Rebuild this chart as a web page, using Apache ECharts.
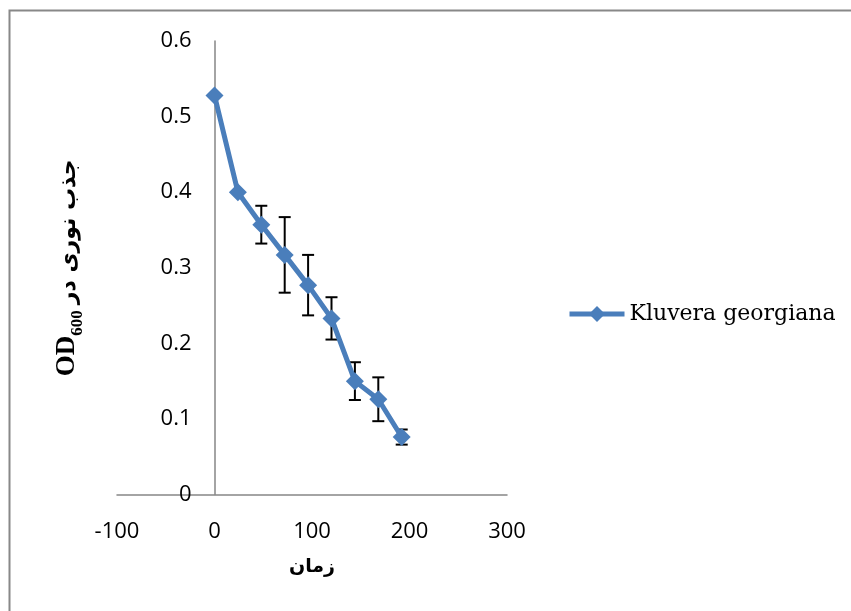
<!DOCTYPE html>
<html><head><meta charset="utf-8">
<script src="https://cdn.jsdelivr.net/npm/echarts@6/dist/echarts.min.js"></script>
<style>html,body{margin:0;padding:0;background:#fff}#c{width:851px;height:611px}</style>
</head><body><div id="c"></div>
<script>
// ---- data ----
const times = [0, 24, 48, 72, 96, 120, 144, 168, 192];
const od = [0.528, 0.400, 0.357, 0.317, 0.277, 0.233, 0.150, 0.126, 0.076];
const errs = [0, 0, 0.025, 0.050, 0.040, 0.028, 0.025, 0.029, 0.010];
const xTicks = [-100, 0, 100, 200, 300];
const yTicks = [0, 0.1, 0.2, 0.3, 0.4, 0.5, 0.6];
const seriesName = 'Kluvera georgiana';
const xTitle = 'زمان';
const yTitleLatin = 'OD';
const yTitleSub = '600';
const yTitleArabic = 'جذب نوری در';

const lineData = times.map((t, i) => [t, od[i]]);
const errData = times.map((t, i) => [t, od[i] - errs[i], od[i] + errs[i]]);

const chart = echarts.init(document.getElementById('c'), null, {renderer: 'canvas'});
const axisColor = '#868686';
const serifBold = "'Liberation Serif', 'DejaVu Sans'";

// grid geometry
const gridLeft = 117, gridRight = 344;
const gridWidth = 851 - gridLeft - gridRight;
const xMin = xTicks[0], xMax = xTicks[xTicks.length - 1];
// y axis sits on x = 0 (labels and name move with it)
const yAxisOffset = -(0 - xMin) / (xMax - xMin) * gridWidth;

chart.setOption({
  animation: false,
  backgroundColor: '#fff',
  graphic: [{
    type: 'rect', silent: true, z: -10,
    shape: {x: 9.5, y: 10.5, width: 900, height: 700},
    style: {fill: 'none', stroke: '#888', lineWidth: 2}
  }],
  grid: {left: gridLeft, right: gridRight, top: 41, bottom: 116.5, containLabel: false, outerBoundsMode: 'none'},
  legend: {
    left: 567, top: 303, orient: 'vertical', padding: 0,
    itemWidth: 55, itemHeight: 20, itemGap: 5,
    lineStyle: {width: 5},
    textStyle: {fontFamily: 'DejaVu Serif', fontSize: 22, color: '#000'},
    data: [seriesName]
  },
  xAxis: {
    type: 'value',
    min: xMin, max: xMax, interval: xTicks[1] - xTicks[0],
    axisLine: {lineStyle: {color: axisColor, width: 1.5}},
    axisTick: {show: false},
    splitLine: {show: false},
    axisLabel: {margin: 26, fontSize: 22, color: '#000', fontFamily: 'Open Sans'},
    name: xTitle, nameLocation: 'middle', nameGap: 63, nameMoveOverlap: false,
    nameTextStyle: {fontFamily: 'DejaVu Sans', fontWeight: 'bold', fontSize: 19, color: '#000'}
  },
  yAxis: {
    type: 'value',
    min: yTicks[0], max: yTicks[yTicks.length - 1], interval: 0.1,
    offset: yAxisOffset,
    axisLine: {show: true, onZero: false, lineStyle: {color: axisColor, width: 1.5}},
    axisTick: {show: false},
    splitLine: {show: false},
    axisLabel: {margin: 23, fontSize: 22, color: '#000', fontFamily: 'Open Sans'},
    name: '{b|' + yTitleLatin + '}{s|' + yTitleSub + '}{a|' + yTitleArabic + '}',
    nameLocation: 'middle', nameRotate: 90, nameGap: 134, nameMoveOverlap: false,
    nameTextStyle: {
      rich: {
        b: {fontFamily: serifBold, fontWeight: 'bold', fontSize: 27, color: '#000', verticalAlign: 'bottom', lineHeight: 30},
        s: {fontFamily: serifBold, fontWeight: 'bold', fontSize: 17, color: '#000', verticalAlign: 'bottom', lineHeight: 30, padding: [0, 6, -6, 0]},
        a: {fontFamily: 'DejaVu Sans', fontWeight: 'bold', fontSize: 22, color: '#000', verticalAlign: 'bottom', lineHeight: 30}
      }
    }
  },
  series: [
    {
      type: 'custom', name: 'err', z: 1, silent: true,
      data: errData,
      encode: {x: 0, y: [1, 2]},
      renderItem: function (params, api) {
        const x = api.value(0);
        const lo = api.coord([x, api.value(1)]);
        const hi = api.coord([x, api.value(2)]);
        const hw = 6;
        const st = {stroke: '#000', lineWidth: 2};
        return {
          type: 'group',
          children: [
            {type: 'line', shape: {x1: lo[0], y1: lo[1], x2: hi[0], y2: hi[1]}, style: st},
            {type: 'line', shape: {x1: lo[0] - hw, y1: lo[1], x2: lo[0] + hw, y2: lo[1]}, style: st},
            {type: 'line', shape: {x1: hi[0] - hw, y1: hi[1], x2: hi[0] + hw, y2: hi[1]}, style: st}
          ]
        };
      }
    },
    {
      type: 'line', name: seriesName, z: 3,
      data: lineData,
      symbol: 'diamond', symbolSize: 18,
      lineStyle: {color: '#4a7ebb', width: 5},
      itemStyle: {color: '#4a7ebb'}
    }
  ]
});
</script>
</body></html>
